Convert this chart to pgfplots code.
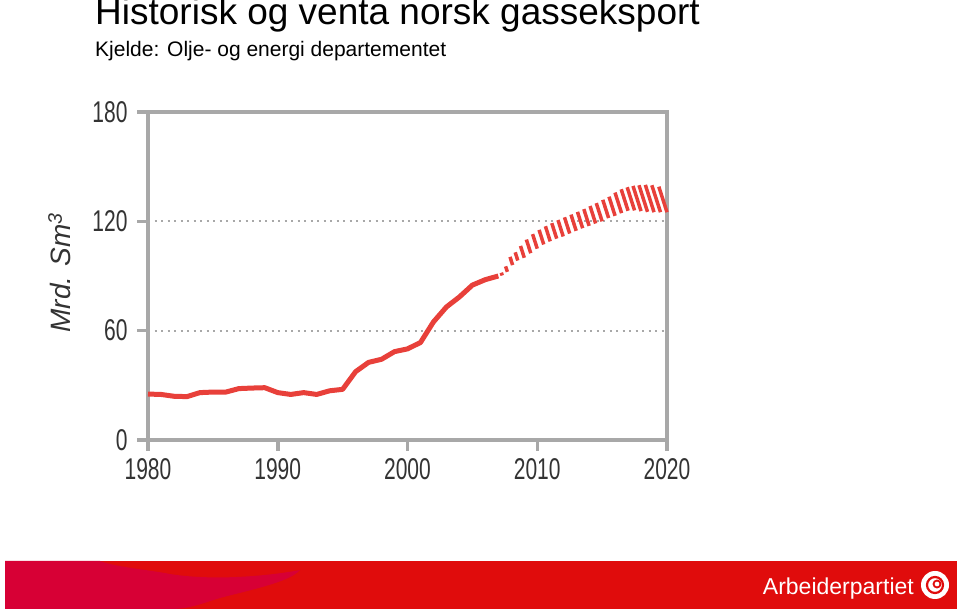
\documentclass[border=0pt]{standalone}
\usepackage{pgfplots}
\pgfplotsset{compat=1.18}
\usepackage{fontspec}
\setmainfont{Liberation Sans}
\newfontfamily\narrow[FakeStretch=0.7]{Liberation Sans}
\usetikzlibrary{patterns.meta}
\definecolor{axgray}{HTML}{A8A8A8}
\definecolor{linered}{HTML}{E8403A}
\definecolor{banred}{HTML}{E00C0C}
\definecolor{bancrim}{HTML}{D70035}
\definecolor{ticktxt}{HTML}{333333}
\pgfplotstableread{
x       L      v     u
2007.30 90.3   1.5   -0.07
2007.70 92.3   3.0   -0.14
2008.10 96.0   4.5   -0.20
2008.50 98.5   4.5   -0.20
2009.00 100.0  6.5   -0.29
2009.50 102.5  7.5   -0.34
2010.00 105.0  8.0   -0.36
2010.50 107.3  8.0   -0.36
2011.00 109.0  8.3   -0.37
2011.50 110.5  8.5   -0.38
2012.00 111.7  9.0   -0.40
2012.50 113.3  8.9   -0.40
2013.00 114.8  8.9   -0.40
2013.50 116.2  9.0   -0.40
2014.00 117.5  9.2   -0.41
2014.50 118.8  9.6   -0.43
2015.00 120.0  10.0  -0.45
2015.50 121.8  10.0  -0.45
2016.00 123.0  10.5  -0.47
2016.50 124.5  11.3  -0.51
2017.00 125.8  11.8  -0.53
2017.50 126.0  12.7  -0.57
2018.00 125.6  13.8  -0.62
2018.50 125.2  14.6  -0.66
2019.00 125.0  15.0  -0.67
2019.50 125.0  14.8  -0.67
2020.00 125.0  14.0  -0.63
}\forecast
\begin{document}
\begin{tikzpicture}[x=1pt,y=1pt]
\useasboundingbox (0pt,0pt) rectangle (960pt,612pt);
\fill[white] (0pt,0pt) rectangle (960pt,612pt);
% title
\node[anchor=base west, inner sep=0pt, font=\fontsize{37}{42}\selectfont] at (95pt,587pt) {Historisk og venta norsk gasseksport};
\node[anchor=base west, inner sep=0pt, font=\fontsize{21}{25}\selectfont] at (95pt,555pt) {Kjelde: Olje- og energi departementet};
\begin{axis}[
  at={(148pt,172pt)}, anchor=origin,
  scale only axis, width=519pt, height=328pt,
  xmin=1980, xmax=2020, ymin=0, ymax=180,
  xtick={1980,1990,2000,2010,2020},
  xticklabels={1980,1990,2000,2010,2020},
  ytick={0,60,120,180},
  yticklabels={0,60,120,180},
  tick pos=left,
  tick align=outside,
  major tick length=11pt,
  every tick/.style={axgray, line width=3.5pt},
  axis line style={axgray, line width=4pt},
  ymajorgrids,
  grid style={axgray, line width=2pt, dash pattern=on 2pt off 4.5pt},
  ticklabel style={font=\narrow\fontsize{30}{30}\selectfont, text=ticktxt},
  xticklabel style={yshift=-4pt},
  yticklabel style={xshift=-6pt},
  ylabel={\itshape Mrd. Sm\textsuperscript{3}},
  ylabel style={at={(axis description cs:-0.17,0.51)}, anchor=center, font=\fontsize{28}{28}\selectfont, text=ticktxt},
  clip=false,
]
\addplot[linered, line width=5pt, line join=round] coordinates {
(1980,25.2) (1981,25) (1982,24) (1983,23.8) (1984,26) (1985,26.3) (1986,26.3)
(1987,28.2) (1988,28.5) (1989,28.7) (1990,26) (1991,25) (1992,26) (1993,25)
(1994,27) (1995,27.8) (1996,37.5) (1997,42.6) (1998,44.3) (1999,48.5)
(2000,50) (2001,53.5) (2002,64.8) (2003,73) (2004,78.5) (2005,85) (2006,88) (2007,90)
};
\addplot[linered, line width=3.5pt, no markers,
  quiver={u=\thisrow{u}, v=\thisrow{v}}] table[x=x, y=L] {\forecast};
\end{axis}
% banner
\fill[banred] (5pt,3pt) rectangle (957pt,51pt);
\fill[bancrim] (5pt,3pt) -- (5pt,51pt) -- (100pt,51pt) .. controls (115pt,45pt) and (150pt,42pt) .. (170pt,38pt)
  .. controls (220pt,30pt) and (280pt,38pt) .. (300pt,42pt) .. controls (290pt,30pt) and (250pt,22pt) .. (220pt,14pt)
  .. controls (200pt,8pt) and (190pt,3pt) .. (170pt,3pt) -- cycle;
\node[anchor=base east, inner sep=0pt, text=white, font=\fontsize{23}{23}\selectfont] at (914pt,17pt) {Arbeiderpartiet};
\fill[white] (935pt,27pt) circle (14pt);
\draw[banred, line width=2.2pt] (935pt,27pt) circle (8pt);
\draw[banred, line width=1.8pt] (937pt,28pt) circle (3.5pt);
\end{tikzpicture}
\end{document}
